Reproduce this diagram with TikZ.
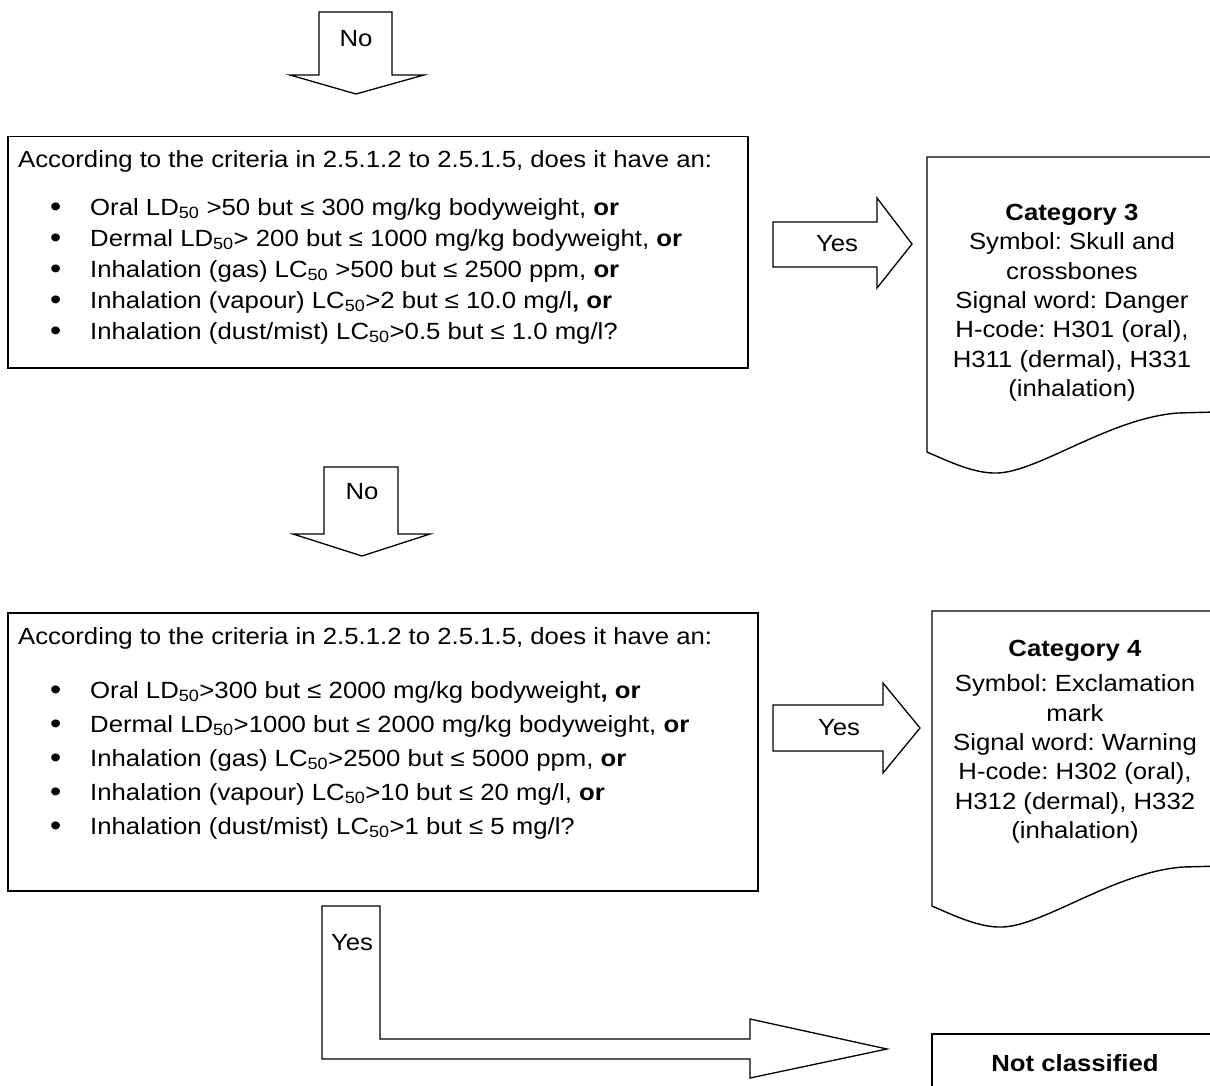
\documentclass[tikz,border=0pt]{standalone}
\usepackage{fontspec}
\setmainfont{Liberation Sans}[FakeStretch=1.1]
\usetikzlibrary{positioning}
\lineskiplimit=-40pt
\frenchspacing

% bullet line inside the question boxes
\newcommand{\critline}[1]{\hspace*{32pt}\makebox[40pt][l]{\raisebox{-1.5pt}{\fontsize{29}{29}\selectfont\textbullet}}#1}

\begin{document}
\begin{tikzpicture}[x=1pt,y=-1pt,
  txt/.style={font=\fontsize{23.4}{29.3}\selectfont,inner sep=0pt},
  qbox/.style={draw,line width=1.5pt,anchor=north west,inner sep=0pt},
  qtext/.style={inner sep=0pt,align=left,anchor=north west},
  blk/.style={draw,line width=1.3pt,fill=white,line join=miter},
  docbox/.style={draw,line width=1.4pt,fill=white},
  cat/.style={txt,align=center,anchor=north},
  lbl/.style={txt},
]
\useasboundingbox (0,0) rectangle (1210,1086);
\clip (0,0) rectangle (1210,1086);

% first "No" arrow
\draw[blk] (319,12) -- (392,12) -- (392,75) -- (424,75) -- (356,94)
  -- (290,75) -- (319,75) -- cycle;
\node[lbl] (no1) at (356,39) {No};

% question box 1
\node[qbox,minimum width=740pt,minimum height=231pt] (q1) at (7,136) {};
\node[qtext,font=\fontsize{23.4}{31}\selectfont]
  (q1text) at (18,150)
  {According to the criteria in 2.5.1.2 to 2.5.1.5, does it have an:\\[17pt]
   \critline{Oral LD\textsubscript{50} >50 but ≤ 300 mg/kg bodyweight, \textbf{or}}\\
   \critline{Dermal LD\textsubscript{50}> 200 but ≤ 1000 mg/kg bodyweight, \textbf{or}}\\
   \critline{Inhalation (gas) LC\textsubscript{50} >500 but ≤ 2500 ppm, \textbf{or}}\\
   \critline{Inhalation (vapour) LC\textsubscript{50}>2 but ≤ 10.0 mg/l\textbf{, or}}\\
   \critline{Inhalation (dust/mist) LC\textsubscript{50}>0.5 but ≤ 1.0 mg/l?}};

% yes arrow to category 3
\draw[blk] (773,222) -- (877,222) -- (877,198) -- (912,244) -- (877,288)
  -- (877,267) -- (773,267) -- cycle;
\node[lbl] (yes1) at (837,244) {Yes};

% category 3
\draw[docbox] (927,157) -- (1216,157) -- (1216,412) -- (1178,413)
  .. controls (1110,418) and (1040,471) .. (998,473)
  .. controls (975,474) and (950,462) .. (927,452) -- cycle;
\node[cat] (cat3) at (1072,204)
  {\textbf{Category 3}\\Symbol: Skull and\\crossbones\\Signal word: Danger\\
   H-code: H301 (oral),\\H311 (dermal), H331\\(inhalation)};

% second "No" arrow
\draw[blk] (324,467) -- (398,467) -- (398,534) -- (430,534) -- (362,556)
  -- (293,534) -- (324,534) -- cycle;
\node[lbl] (no2) at (362,492) {No};

% question box 2
\node[qbox,minimum width=750pt,minimum height=278pt] (q2) at (7,612) {};
\node[qtext,font=\fontsize{23.4}{34}\selectfont]
  (q2text) at (18,627)
  {According to the criteria in 2.5.1.2 to 2.5.1.5, does it have an:\\[20pt]
   \critline{Oral LD\textsubscript{50}>300 but ≤ 2000 mg/kg bodyweight\textbf{, or}}\\
   \critline{Dermal LD\textsubscript{50}>1000 but ≤ 2000 mg/kg bodyweight, \textbf{or}}\\
   \critline{Inhalation (gas) LC\textsubscript{50}>2500 but ≤ 5000 ppm, \textbf{or}}\\
   \critline{Inhalation (vapour) LC\textsubscript{50}>10 but ≤ 20 mg/l, \textbf{or}}\\
   \critline{Inhalation (dust/mist) LC\textsubscript{50}>1 but ≤ 5 mg/l?}};

% yes arrow to category 4
\draw[blk] (773,705) -- (883,705) -- (883,683) -- (920,728) -- (883,773)
  -- (883,751) -- (773,751) -- cycle;
\node[lbl] (yes2) at (839,728) {Yes};

% category 4
\draw[docbox,shift={(5,454)}] (927,157) -- (1216,157) -- (1216,412) -- (1178,413)
  .. controls (1110,418) and (1040,471) .. (998,473)
  .. controls (975,474) and (950,462) .. (927,452) -- cycle;
\node[cat] (cat4) at (1075,640)
  {\textbf{Category 4}\\[6pt]Symbol: Exclamation\\mark\\Signal word: Warning\\
   H-code: H302 (oral),\\H312 (dermal), H332\\(inhalation)};

% yes arrow to not classified
\draw[blk] (322,906) -- (380,906) -- (380,1039) -- (750,1039) -- (750,1019)
  -- (887,1049) -- (750,1078) -- (750,1059) -- (322,1059) -- cycle;
\node[lbl] (yes3) at (352,943) {Yes};

% not classified
\draw[docbox] (932,1034) rectangle (1220,1100);
\node[txt,anchor=base] (nc) at (1075,1071) {\textbf{Not classified}};
\end{tikzpicture}
\end{document}
